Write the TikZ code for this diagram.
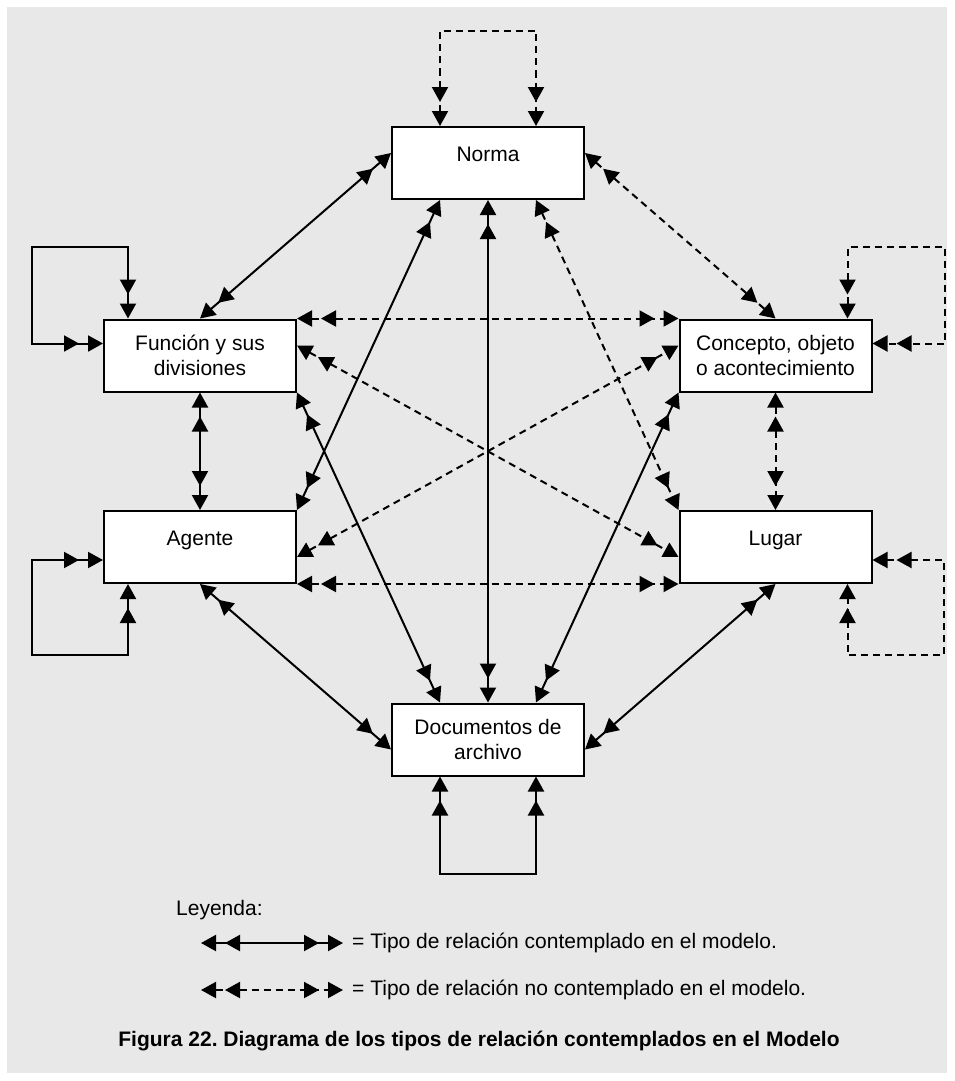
\documentclass[tikz,border=0pt]{standalone}
\usepackage{fontspec}
\setmainfont{Liberation Sans}
\usetikzlibrary{arrows.meta}
\definecolor{panel}{RGB}{232,232,232}
\newcommand{\txtsize}{\fontsize{21}{25}\selectfont}
\frenchspacing

\begin{document}
\begin{tikzpicture}[
  x=1pt,y=-1pt,
  Dbl/.tip={Triangle[length=15pt,width=16pt,sep=9pt]Triangle[length=15pt,width=16pt]},
  box/.style={draw,line width=2pt,fill=white,align=center,minimum width=192pt,minimum height=72pt,font=\txtsize},
  onebox/.style={box,text depth=18pt},
  rel/.style={Dbl-Dbl,line width=2pt},
  norel/.style={rel,dash pattern=on 7pt off 5pt},
  lbl/.style={font=\txtsize,inner sep=0pt}
]
\useasboundingbox (0,0) rectangle (954,1081);
\fill[panel] (7,7) rectangle (947,1073);

\node[onebox] (norma) at (488,163) {Norma};
\node[box] (func) at (200,355.5) {Función y sus\\divisiones};
\node[box] (conc) at (775.5,355.5) {Concepto, objeto\\o acontecimiento};
\node[onebox] (agen) at (200,547) {Agente};
\node[onebox] (lugar) at (775.5,547) {Lugar};
\node[box] (docs) at (488,739.5) {Documentos de\\archivo};

\draw[rel] ([yshift=10pt]norma.west) -- (func.north);
\draw[rel] ([xshift=-48pt]norma.south) -- (agen.north east);
\draw[rel] (norma.south) -- (docs.north);
\draw[rel] (func.south east) -- ([xshift=-48pt]docs.north);
\draw[rel] (conc.south west) -- ([xshift=48pt]docs.north);
\draw[rel] (func.south) -- (agen.north);
\draw[rel] (agen.south) -- ([yshift=-10pt]docs.west);
\draw[rel] (lugar.south) -- ([yshift=-10pt]docs.east);
\draw[rel] ([xshift=-72pt]func.north) |- (32,247) |- ([yshift=12pt]func.west);
\draw[rel] ([yshift=-13pt]agen.west) -| (32,655) -| ([xshift=-72pt]agen.south);
\draw[rel] ([xshift=-48pt]docs.south) -- ++(0,97) -| ([xshift=48pt]docs.south);

\draw[norel] ([yshift=10pt]norma.east) -- (conc.north);
\draw[norel] ([xshift=48pt]norma.south) -- (lugar.north west);
\draw[norel] (func.north east) -- (conc.north west);
\draw[norel] ([yshift=10pt]func.east) -- ([yshift=-10pt]lugar.west);
\draw[norel] ([yshift=-10pt]agen.east) -- ([yshift=10pt]conc.west);
\draw[norel] (agen.south east) -- (lugar.south west);
\draw[norel] (conc.south) -- (lugar.north);
\draw[norel] ([xshift=-48pt]norma.north) -- ++(0,-95) -| ([xshift=48pt]norma.north);
\draw[norel] ([xshift=72pt]conc.north) |- (945,247) |- ([yshift=12pt]conc.east);
\draw[norel] ([yshift=-13pt]lugar.east) -| (944,655) -| ([xshift=72pt]lugar.south);

\node[lbl,anchor=west] (leyenda) at (176,910) {Leyenda:};
\coordinate (ley1) at (201,943);
\node[lbl,anchor=west,inner xsep=9pt] (txt1) at (343,943) {= Tipo de relación contemplado en el modelo.};
\draw[rel] (ley1) -- (txt1.west);
\coordinate (ley2) at (201,990);
\node[lbl,anchor=west,inner xsep=9pt] (txt2) at (343,990) {= Tipo de relación no contemplado en el modelo.};
\draw[norel] (ley2) -- (txt2.west);

\node[lbl,font=\txtsize\bfseries] (caption) at (479,1041) {Figura 22. Diagrama de los tipos de relación contemplados en el Modelo};
\end{tikzpicture}
\end{document}
